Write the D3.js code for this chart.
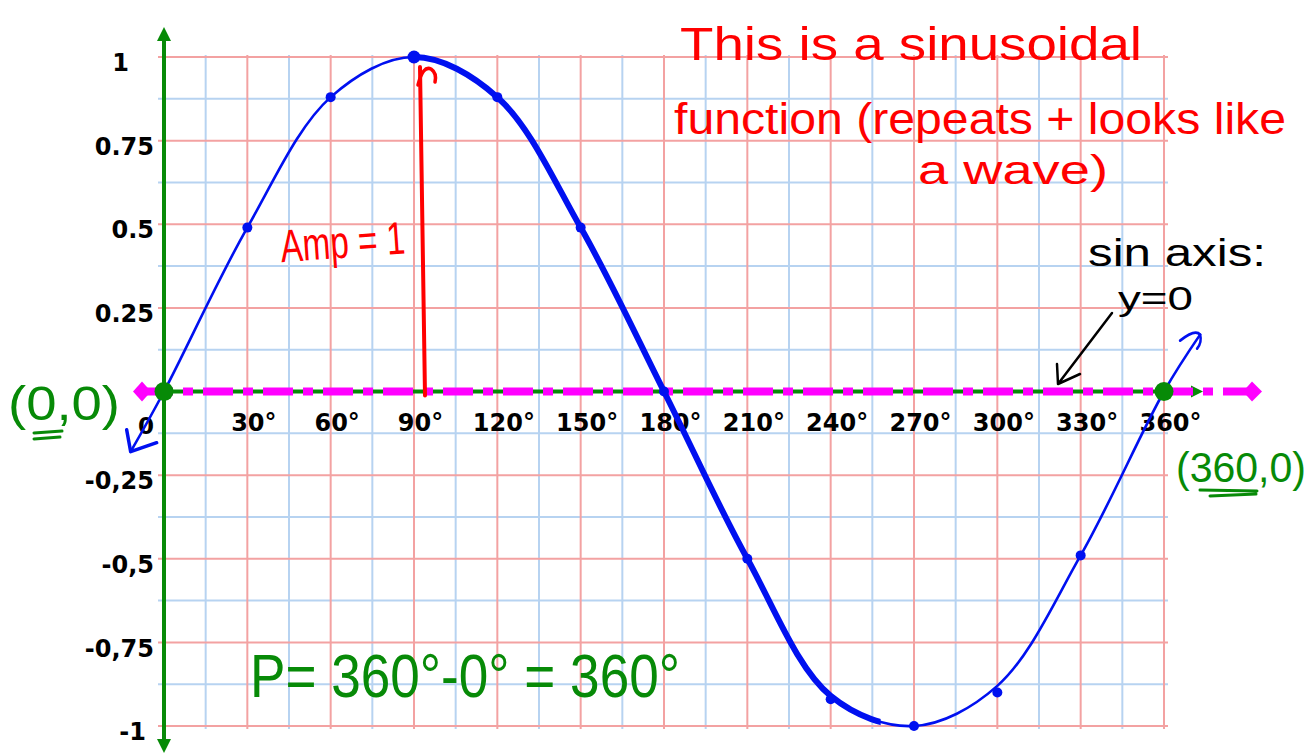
<!DOCTYPE html>
<html>
<head>
<meta charset="utf-8">
<script src="https://cdn.jsdelivr.net/npm/d3@7"></script>
<style>
  html, body { margin: 0; padding: 0; background: #ffffff; }
  svg { display: block; }
</style>
</head>
<body>
<svg id="chart" width="1315" height="753"></svg>
<script>
// ---------- data ----------
const curveDegrees = [-12, 0, 30, 60, 90, 120, 150, 180, 210, 240, 270, 300, 330, 360, 373];
const curveValues  = [-0.18, 0, 0.49, 0.88, 1, 0.88, 0.49, 0, -0.5, -0.91, -1, -0.88, -0.49, 0, 0.17];
const pointDegrees = [30, 60, 90, 120, 150, 180, 210, 240, 270, 300, 330];
const pointValues  = [0.49, 0.88, 1, 0.88, 0.49, 0, -0.5, -0.92, -1, -0.9, -0.49];
const keyDegrees = [0, 360];
const keyValues  = [0, 0];
const xTicks = [30, 60, 90, 120, 150, 180, 210, 240, 270, 300, 330, 360];
const xTickLabels = ["30°", "60°", "90°", "120°", "150°", "180°", "210°", "240°", "270°", "300°", "330°", "360°"];
const yTicks = [1, 0.75, 0.5, 0.25, -0.25, -0.5, -0.75, -1];
const yTickLabels = ["1", "0.75", "0.5", "0.25", "-0,25", "-0,5", "-0,75", "-1"];
const gridDegrees = d3.range(0, 361, 15);
const gridValues = d3.range(-1, 1.0001, 0.125);
const amplitude = 1;
const thickFrom = 90, thickTo = 258;

// ---------- setup ----------
const svg = d3.select("#chart");
const x = d3.scaleLinear().domain([0, 360]).range([164, 1164]);
const y = d3.scaleLinear().domain([-1, 1]).range([726, 57]);

const GREEN = "#078a07", MAGENTA = "#ff00ff", BLUE = "#0010f0", RED = "#ff0000";
const gridRed = "#f3a2a2", gridBlue = "#b7d3f1";
const isMajor = v => Math.abs((v * 4) - Math.round(v * 4)) < 1e-6;

// ---------- grid ----------
const gx0 = x(0) - 6, gx1 = x(360) + 4, gy0 = y(1) - 2, gy1 = y(-1) + 3;
const grid = svg.append("g");
grid.append("g").selectAll("line").data(gridValues.filter(v => !isMajor(v)))
  .join("line").attr("x1", gx0).attr("x2", gx1).attr("y1", d => y(d)).attr("y2", d => y(d))
  .attr("stroke", gridBlue).attr("stroke-width", 2);
grid.append("g").selectAll("line").data(gridDegrees.filter(d => d % 30 !== 0))
  .join("line").attr("y1", gy0).attr("y2", gy1).attr("x1", d => x(d)).attr("x2", d => x(d))
  .attr("stroke", gridBlue).attr("stroke-width", 2);
grid.append("g").selectAll("line").data(gridValues.filter(isMajor))
  .join("line").attr("x1", gx0).attr("x2", gx1).attr("y1", d => y(d)).attr("y2", d => y(d))
  .attr("stroke", gridRed).attr("stroke-width", 2);
grid.append("g").selectAll("line").data(gridDegrees.filter(d => d % 30 === 0))
  .join("line").attr("y1", gy0).attr("y2", gy1).attr("x1", d => x(d)).attr("x2", d => x(d))
  .attr("stroke", gridRed).attr("stroke-width", 2);

// ---------- axes (green) ----------
const ax = svg.append("g");
ax.append("line").attr("x1", x(0)).attr("x2", x(0)).attr("y1", 40).attr("y2", 742)
  .attr("stroke", GREEN).attr("stroke-width", 4);
ax.append("path").attr("d", `M${x(0)},27 L${x(0)-7},41 L${x(0)+7},41 Z`).attr("fill", GREEN);
ax.append("path").attr("d", `M${x(0)},753 L${x(0)-7},739 L${x(0)+7},739 Z`).attr("fill", GREEN);
ax.append("line").attr("x1", 138).attr("x2", 1195).attr("y1", y(0)).attr("y2", y(0))
  .attr("stroke", GREEN).attr("stroke-width", 4);
ax.append("path").attr("d", `M1203,${y(0)} L1191,${y(0)-6} L1191,${y(0)+6} Z`).attr("fill", GREEN);

// magenta dashed sine axis y=0
ax.append("line").attr("x1", 143).attr("x2", 1248).attr("y1", y(0)).attr("y2", y(0))
  .attr("stroke", MAGENTA).attr("stroke-width", 8).attr("stroke-dasharray", "30,10,10,10");
ax.append("path").attr("d", `M133,${y(0)} L142,${y(0)-10} L151,${y(0)} L142,${y(0)+10} Z`).attr("fill", MAGENTA);
ax.append("path").attr("d", `M1262,${y(0)} L1252,${y(0)-10} L1243,${y(0)} L1252,${y(0)+10} Z`).attr("fill", MAGENTA);

// ---------- tick labels ----------
const xAxis = d3.axisBottom(x).tickValues(xTicks).tickSize(0).tickPadding(22)
  .tickFormat((d, i) => xTickLabels[i]);
const xg = svg.append("g").attr("transform", `translate(6,${y(0)})`).call(xAxis);
xg.select(".domain").remove();
xg.selectAll("text").attr("font-family", "DejaVu Sans, sans-serif").attr("font-size", 24)
  .attr("font-weight", "bold").attr("fill", "#000");

const yAxis = d3.axisLeft(y).tickValues(yTicks).tickSize(0).tickPadding(0)
  .tickFormat((d, i) => yTickLabels[i]);
const yg = svg.append("g").attr("transform", `translate(${x(0) - 10},6)`).call(yAxis);
yg.select(".domain").remove();
yg.selectAll("text").attr("font-family", "DejaVu Sans, sans-serif").attr("font-size", 24)
  .attr("font-weight", "bold").attr("fill", "#000")
  .attr("dx", d => d === 1 ? -25 : (d === -1 ? -8 : 0));

svg.append("text").attr("x", x(0) - 18).attr("y", y(0) + 42).attr("text-anchor", "middle")
  .attr("font-family", "DejaVu Sans, sans-serif").attr("font-size", 23).attr("font-weight", "bold")
  .text("0");

// ---------- amplitude arrow (red) ----------
const ampX = x(90) + 11;
svg.append("line").attr("x1", ampX).attr("x2", ampX - 5).attr("y1", y(0) + 4).attr("y2", y(amplitude) + 10)
  .attr("stroke", RED).attr("stroke-width", 4).attr("stroke-linecap", "round");
svg.append("path").attr("d", `M${ampX-7},${y(amplitude)+28} Q${ampX-2},${y(amplitude)+8} ${ampX+6},${y(amplitude)+12} Q${ampX+12},${y(amplitude)+16} ${ampX+10},${y(amplitude)+25}`)
  .attr("fill", "none").attr("stroke", RED).attr("stroke-width", 3.5).attr("stroke-linecap", "round");

// ---------- sine curve ----------
const pts = curveDegrees.map((d, i) => [x(d), y(curveValues[i])]);
const line = d3.line().curve(d3.curveCatmullRom.alpha(0.5));
svg.append("path").attr("d", line(pts)).attr("fill", "none").attr("stroke", BLUE)
  .attr("stroke-width", 2.6).attr("stroke-linecap", "round");
svg.append("clipPath").attr("id", "thick").append("rect")
  .attr("x", x(thickFrom)).attr("y", 0).attr("width", x(thickTo) - x(thickFrom)).attr("height", 753);
svg.append("path").attr("d", line(pts)).attr("fill", "none").attr("stroke", BLUE)
  .attr("stroke-width", 6).attr("clip-path", "url(#thick)");

// curve arrowheads
const s = pts[0], e = pts[pts.length - 1];
svg.append("path").attr("d", `M${s[0]-4},${s[1]-22} L${s[0]},${s[1]} L${s[0]+26},${s[1]-9}`)
  .attr("fill", "none").attr("stroke", BLUE).attr("stroke-width", 3.5).attr("stroke-linecap", "round").attr("stroke-linejoin", "round");
svg.append("path").attr("d", `M${e[0]-20},${e[1]+6} Q${e[0]-5},${e[1]-6} ${e[0]},${e[1]} Q${e[0]+2},${e[1]+8} ${e[0]-3},${e[1]+14}`)
  .attr("fill", "none").attr("stroke", BLUE).attr("stroke-width", 2.6).attr("stroke-linecap", "round");

// points
svg.append("g").selectAll("circle").data(pointDegrees).join("circle")
  .attr("cx", d => x(d)).attr("cy", (d, i) => y(pointValues[i]))
  .attr("r", d => d === 90 ? 6.5 : 5).attr("fill", BLUE);

// key green points
svg.append("g").selectAll("circle").data(keyDegrees).join("circle")
  .attr("cx", d => x(d)).attr("cy", (d, i) => y(keyValues[i])).attr("r", 9.5).attr("fill", GREEN);

// ---------- annotations ----------
function txt(t, px, py, size, color, len, extra) {
  const el = svg.append("text").attr("x", px).attr("y", py).attr("font-size", size)
    .attr("font-family", "Liberation Sans, Arial, sans-serif").attr("fill", color).text(t);
  if (len) el.attr("textLength", len).attr("lengthAdjust", "spacingAndGlyphs");
  if (extra) extra(el);
  return el;
}
txt("This is a sinusoidal", 680, 60, 46, RED, 462);
txt("function (repeats + looks like", 674, 134, 44, RED, 612);
txt("a wave)", 918, 184, 40, RED, 190);
txt("Amp = 1", 280, 258, 46, RED, 125, el => el.attr("transform", "rotate(-4 340 240)"));

txt("sin axis:", 1088, 266, 38, "#000", 178);
txt("y=0", 1118, 310, 34, "#000", 75);
svg.append("path").attr("d", "M1112,313 L1058,384 M1058,384 L1057,364 M1058,384 L1080,374")
  .attr("fill", "none").attr("stroke", "#000").attr("stroke-width", 2.5).attr("stroke-linecap", "round");

txt("(0,0)", 8, 420, 48, GREEN, 112);
svg.append("path").attr("d", "M34,433 L62,431 M34,439 L60,437").attr("stroke", GREEN).attr("stroke-width", 3).attr("stroke-linecap", "round");
txt("(360,0)", 1176, 482, 42, GREEN, 130);
svg.append("path").attr("d", "M1200,490 L1257,491 M1210,496 L1256,494").attr("stroke", GREEN).attr("stroke-width", 3).attr("stroke-linecap", "round");

txt("P= 360°-0° = 360°", 250, 697, 62, GREEN, 430);
</script>
</body>
</html>
